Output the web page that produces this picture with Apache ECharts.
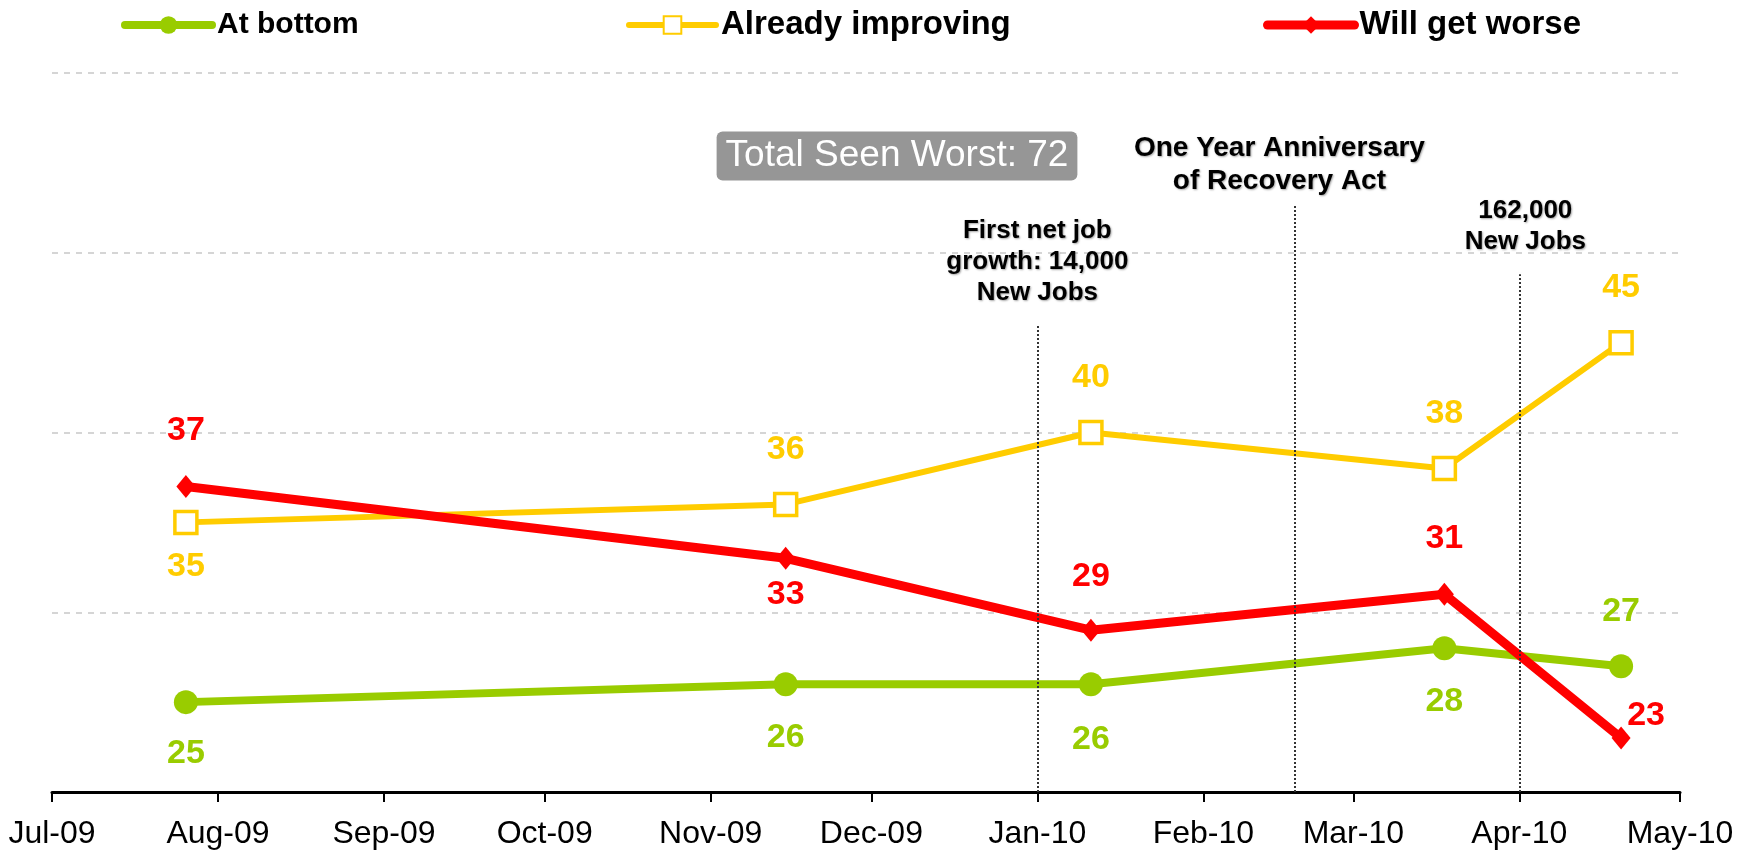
<!DOCTYPE html>
<html>
<head>
<meta charset="utf-8">
<script src="https://cdn.jsdelivr.net/npm/echarts@6/dist/echarts.min.js"></script>
<style>
  html, body { margin: 0; padding: 0; background: #fff; }
  #chart { width: 1753px; height: 856px; }
</style>
</head>
<body>
<div id="chart"></div>
<script>
// survey dates and values
const surveyDates = ['2009-07-26', '2009-11-15', '2010-01-11', '2010-03-18', '2010-04-20'];
const atBottom = [25, 26, 26, 28, 27];
const alreadyImproving = [35, 36, 40, 38, 45];
const willGetWorse = [37, 33, 29, 31, 23];

// x axis ticks (first of each month)
const monthTicks = ['2009-07-01', '2009-08-01', '2009-09-01', '2009-10-01', '2009-11-01', '2009-12-01',
  '2010-01-01', '2010-02-01', '2010-03-01', '2010-04-01', '2010-05-01'];
const monthNames = ['Jan', 'Feb', 'Mar', 'Apr', 'May', 'Jun', 'Jul', 'Aug', 'Sep', 'Oct', 'Nov', 'Dec'];

// events marked with dotted lines
const eventDates = ['2010-01-01', '2010-02-18', '2010-04-01'];
const eventTexts = ['First net job\ngrowth: 14,000\nNew Jobs', 'One Year Anniversary\nof Recovery Act', '162,000\nNew Jobs'];
const eventLineTops = [46, 52.6, 48.8];
const totalSeenWorst = 72;

// label placement (pixels, relative to the point)
const greenLabelOffsets = [[0, 51], [0, 53], [0, 55], [0, 53], [0, -55]];
const yellowLabelOffsets = [[0, 44], [0, -55], [0, -55], [0, -55], [0, -55]];
const redLabelOffsets = [[0, -56], [0, 36], [0, -54], [0, -56], [25, -22]];

const FONT = 'Arial, "Liberation Sans", sans-serif';
const GREEN = '#99cc00', YELLOW = '#ffcc00', RED = '#ff0000';

const ts = s => Date.parse(s);
const tickValues = monthTicks.map(ts);

function buildData(values, offsets, color) {
  return values.map((v, i) => ({
    value: [ts(surveyDates[i]), v],
    label: {
      show: true,
      position: 'inside',
      offset: offsets[i],
      color: color,
      fontSize: 34,
      fontWeight: 'bold',
      fontFamily: FONT
    }
  }));
}

function legendAt(name, left, fontSize, lineWidth) {
  return {
    data: [name],
    left: left,
    top: 25 - fontSize / 2,
    padding: 0,
    itemWidth: 87,
    itemHeight: 22,
    lineStyle: { width: lineWidth, cap: 'round' },
    textStyle: { fontSize: fontSize, fontWeight: 'bold', color: '#000', fontFamily: FONT }
  };
}

const chart = echarts.init(document.getElementById('chart'));

const option = {
  animation: false,
  backgroundColor: '#fff',
  grid: { left: 52, right: 73, top: 73, bottom: 64 },
  legend: [
    legendAt('At bottom', 121, 30, 8),
    legendAt('Already improving', 626, 33, 6),
    legendAt('Will get worse', 1263, 33, 9)
  ],
  xAxis: {
    type: 'value',
    min: tickValues[0],
    max: tickValues[tickValues.length - 1],
    axisLine: { lineStyle: { color: '#000', width: 3 } },
    axisTick: { customValues: tickValues, length: 10, lineStyle: { color: '#000', width: 2 } },
    axisLabel: {
      customValues: tickValues,
      margin: 26,
      fontSize: 32,
      color: '#000',
      fontFamily: FONT,
      formatter: v => {
        const d = new Date(v);
        return monthNames[d.getUTCMonth()] + '-' + String(d.getUTCFullYear()).slice(2);
      }
    },
    splitLine: { show: false }
  },
  yAxis: {
    type: 'value',
    min: 20,
    max: 60,
    interval: 10,
    axisLine: { show: false },
    axisTick: { show: false },
    axisLabel: { show: false },
    splitLine: { lineStyle: { color: '#c8c8c8', type: [6, 6], width: 1.5 } }
  },
  series: [
    {
      name: 'At bottom',
      type: 'line',
      data: buildData(atBottom, greenLabelOffsets, GREEN),
      symbol: 'circle',
      symbolSize: 24,
      itemStyle: { color: GREEN },
      lineStyle: { color: GREEN, width: 8 }
    },
    {
      name: 'Already improving',
      type: 'line',
      data: buildData(alreadyImproving, yellowLabelOffsets, YELLOW),
      symbol: 'rect',
      symbolSize: 22,
      itemStyle: { color: '#fff', borderColor: YELLOW, borderWidth: 3.5 },
      lineStyle: { color: YELLOW, width: 6 }
    },
    {
      name: 'Will get worse',
      type: 'line',
      data: buildData(willGetWorse, redLabelOffsets, RED),
      symbol: 'diamond',
      symbolSize: [19, 23],
      itemStyle: { color: RED },
      lineStyle: { color: RED, width: 9 },
      markLine: {
        silent: true,
        symbol: ['none', 'none'],
        label: { show: false },
        lineStyle: { type: 'dotted', color: '#333', width: 2 },
        data: eventDates.map((d, i) => [
          { coord: [ts(d), 20] },
          { coord: [ts(d), eventLineTops[i]] }
        ])
      },
      z: 3
    }
  ]
};

chart.setOption(option);

// annotations placed from the event dates
const textShadow = { textShadowColor: 'rgba(0,0,0,0.35)', textShadowBlur: 2, textShadowOffsetX: 1, textShadowOffsetY: 1 };
const annot = [
  { dx: 0, y: 262, size: 26, lh: 31 },
  { dx: -15, y: 165, size: 28, lh: 33 },
  { dx: 6, y: 226, size: 26, lh: 31 }
];
const graphics = eventDates.map((d, i) => {
  const px = chart.convertToPixel({ gridIndex: 0 }, [ts(d), 20]);
  return {
    type: 'text',
    x: px[0] + annot[i].dx,
    y: annot[i].y,
    style: Object.assign({
      text: eventTexts[i],
      font: 'bold ' + annot[i].size + 'px ' + FONT,
      lineHeight: annot[i].lh,
      fill: '#000',
      align: 'center',
      verticalAlign: 'middle'
    }, textShadow)
  };
});
graphics.push({
  type: 'text',
  x: 897,
  y: 156,
  style: {
    text: 'Total Seen Worst: ' + totalSeenWorst,
    font: '37px ' + FONT,
    fill: '#fff',
    backgroundColor: '#969696',
    padding: [6, 9, 6, 9],
    borderRadius: 6,
    align: 'center',
    verticalAlign: 'middle'
  }
});
chart.setOption({ graphic: graphics });

window.addEventListener('resize', () => chart.resize());
</script>
</body>
</html>
